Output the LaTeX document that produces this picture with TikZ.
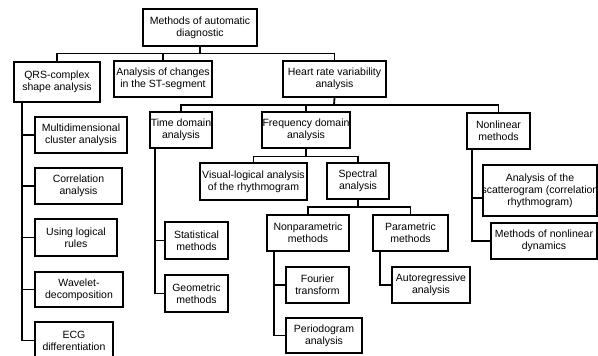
\documentclass[tikz,border=0pt]{standalone}
\usepackage{fontspec}
\setmainfont{Liberation Sans}
\newcommand{\ctr}[1]{\makebox[0pt]{#1}}
\begin{document}
\begin{tikzpicture}[x=1pt,y=-1pt,
  box/.style={draw, line width=1.8pt, inner sep=0pt, align=center,
    font=\fontsize{10.5}{12}\selectfont},
  wire/.style={line width=1.8pt}]
\useasboundingbox (0,0) rectangle (598,356);
\clip (0,0) rectangle (598,356);

% top level
\node[box, minimum width=114, minimum height=37] (root) at (200,27.5) {\ctr{Methods of automatic}\\\ctr{diagnostic}};
\node[box, minimum width=86, minimum height=40] (qrs) at (57,82) {\ctr{QRS-complex}\\\ctr{shape analysis}};
\node[box, minimum width=98, minimum height=36] (st) at (163,79) {\ctr{Analysis of changes}\\\ctr{in the ST-segment}};
\node[box, minimum width=103, minimum height=36] (hrv) at (334.5,79) {\ctr{Heart rate variability}\\\ctr{analysis}};

% QRS-complex shape analysis branch
\node[box, minimum width=92, minimum height=36] (multi) at (81,135) {\ctr{Multidimensional}\\\ctr{cluster analysis}};
\node[box, minimum width=87, minimum height=36] (corr) at (78.5,186) {\ctr{Correlation}\\\ctr{analysis}};
\node[box, minimum width=82, minimum height=37] (logic) at (76,237.5) {\ctr{Using logical}\\\ctr{rules}};
\node[box, minimum width=88, minimum height=35] (wavelet) at (79,289.5) {\ctr{Wavelet-}\\\ctr{decomposition}};
\node[box, minimum width=78, minimum height=37] (ecg) at (74,340.5) {\ctr{ECG}\\\ctr{differentiation}};

% heart rate variability branch
\node[box, minimum width=62, minimum height=36] (time) at (181,130) {\ctr{Time domain}\\\ctr{analysis}};
\node[box, minimum width=88, minimum height=36] (freq) at (306,130) {\ctr{Frequency domain}\\\ctr{analysis}};
\node[box, minimum width=63, minimum height=36] (nonlin) at (498.5,131) {\ctr{Nonlinear}\\\ctr{methods}};

\node[box, minimum width=63, minimum height=37] (stat) at (196.5,240.5) {\ctr{Statistical}\\\ctr{methods}};
\node[box, minimum width=63, minimum height=37] (geo) at (196.5,293.5) {\ctr{Geometric}\\\ctr{methods}};

\node[box, minimum width=107, minimum height=37] (visual) at (253.5,181.5) {\ctr{Visual-logical analysis}\\\ctr{of the rhythmogram}};
\node[box, minimum width=62, minimum height=36] (spectral) at (358,181) {\ctr{Spectral}\\\ctr{analysis}};
\node[box, minimum width=82, minimum height=36] (nonpar) at (308,233) {\ctr{Nonparametric}\\\ctr{methods}};
\node[box, minimum width=75, minimum height=36] (par) at (410.5,233) {\ctr{Parametric}\\\ctr{methods}};
\node[box, minimum width=63, minimum height=36] (fourier) at (317.5,285) {\ctr{Fourier}\\\ctr{transform}};
\node[box, minimum width=76, minimum height=35] (period) at (324,335.5) {\ctr{Periodogram}\\\ctr{analysis}};
\node[box, minimum width=78, minimum height=36] (autoreg) at (431,285) {\ctr{Autoregressive}\\\ctr{analysis}};

\node[box, minimum width=114, minimum height=51] (scatter) at (540,190.5) {\ctr{Analysis of the}\\\ctr{scatterogram (correlation}\\\ctr{rhythmogram)}};
\node[box, minimum width=106, minimum height=36] (dyn) at (544,241) {\ctr{Methods of nonlinear}\\\ctr{dynamics}};

% bus lines between levels
\coordinate (b1) at (200,53.5);
\coordinate (b2) at (334,105);
\coordinate (b3) at (306,156.5);
\coordinate (b4) at (358,207);

\draw[wire] (root.south) -- (b1);
\draw[wire] (qrs.north) |- (b1) -| (hrv.north);
\draw[wire] (st.north) -- (st.north |- b1);

\draw[wire] (hrv.south) -- (b2);
\draw[wire] (time.north) |- (b2) -| (nonlin.north);
\draw[wire] (freq.north) -- (freq.north |- b2);

\draw[wire] (freq.south) -- (b3);
\draw[wire] (visual.north) |- (b3) -| (spectral.north);

\draw[wire] (spectral.south) -- (b4);
\draw[wire] (nonpar.north) |- (b4) -| (par.north);

% side spines with branches
\coordinate (qs) at ([xshift=9pt]qrs.south west);
\foreach \n in {multi,corr,logic,wavelet,ecg}
  \draw[wire] (qs) |- (\n.west);

\coordinate (ts) at ([xshift=6pt]time.south west);
\foreach \n in {stat,geo}
  \draw[wire] (ts) |- (\n.west);

\coordinate (ns) at ([xshift=8pt]nonpar.south west);
\foreach \n in {fourier,period}
  \draw[wire] (ns) |- (\n.west);

\coordinate (ps) at ([xshift=8pt]par.south west);
\draw[wire] (ps) |- (autoreg.west);

\coordinate (ls) at ([xshift=6pt]nonlin.south west);
\draw[wire] (ls) |- ([yshift=-7.5pt]scatter.west);
\draw[wire] (ls) |- (dyn.west);
\end{tikzpicture}
\end{document}
